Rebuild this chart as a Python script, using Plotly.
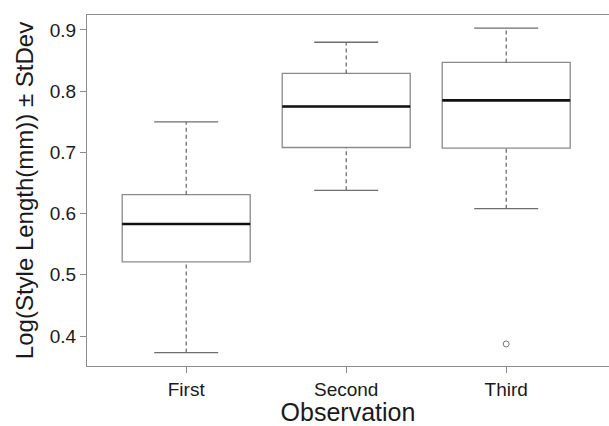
import plotly.graph_objects as go

categories = ["First", "Second", "Third"]
positions = [1, 2, 3]
lower_whisker = [0.373, 0.638, 0.608]
q1 = [0.521, 0.708, 0.707]
median = [0.583, 0.775, 0.785]
q3 = [0.631, 0.829, 0.847]
upper_whisker = [0.750, 0.880, 0.903]
outlier_x = ["Third"]
outlier_y = [0.387]
y_ticks = [0.4, 0.5, 0.6, 0.7, 0.8, 0.9]

BOX_W = 0.8
CAP_W = 0.4
pos_of = dict(zip(categories, positions))

fig = go.Figure()

# Box bodies (no whiskers)
fig.add_trace(go.Box(
    x=positions, q1=q1, median=median, q3=q3,
    lowerfence=q1, upperfence=q3,
    width=BOX_W, fillcolor="white",
    line=dict(color="#8a8a8a", width=1.3),
    boxpoints=False, hoverinfo="skip", showlegend=False,
))

for p, lw, a, m, b, uw in zip(positions, lower_whisker, q1, median, q3, upper_whisker):
    # dashed whiskers
    for y0, y1 in ((lw, a), (b, uw)):
        fig.add_trace(go.Scatter(x=[p, p], y=[y0, y1], mode="lines",
                                 line=dict(color="#555555", width=1.1, dash="4px,3px"),
                                 showlegend=False, hoverinfo="skip"))
    # caps
    for yv in (lw, uw):
        fig.add_trace(go.Scatter(x=[p - CAP_W / 2, p + CAP_W / 2], y=[yv, yv], mode="lines",
                                 line=dict(color="#6e6e6e", width=1.3),
                                 showlegend=False, hoverinfo="skip"))
    # median
    fig.add_trace(go.Scatter(x=[p - BOX_W / 2, p + BOX_W / 2], y=[m, m], mode="lines",
                             line=dict(color="#111111", width=2.6),
                             showlegend=False, hoverinfo="skip"))

fig.add_trace(go.Scatter(
    x=[pos_of[c] for c in outlier_x], y=outlier_y, mode="markers",
    marker=dict(symbol="circle-open", size=6, color="#777777", line=dict(width=1)),
    showlegend=False, hoverinfo="skip"))

fig.update_layout(
    width=609, height=426,
    margin=dict(l=87, r=0, t=15, b=60, autoexpand=False),
    paper_bgcolor="white", plot_bgcolor="white",
    font=dict(family="Liberation Sans, Arial, sans-serif", color="#1a1a1a"),
)
fig.update_xaxes(
    range=[0.38, 3.6425], tickvals=positions, ticktext=categories,
    showgrid=False, zeroline=False, automargin=False,
    showline=True, linecolor="#8c8c8c", linewidth=1.3, mirror=True,
    ticks="outside", ticklen=6, tickcolor="#8c8c8c", tickwidth=1,
    tickfont=dict(size=19),
    title=dict(text="Observation", font=dict(size=25), standoff=0),
)
fig.update_yaxes(
    range=[0.351, 0.9245], tickvals=y_ticks, ticktext=[f"{v:.1f}" for v in y_ticks],
    showgrid=False, zeroline=False, automargin=False,
    showline=True, linecolor="#8c8c8c", linewidth=1.3, mirror=False,
    ticks="outside", ticklen=6, tickcolor="#8c8c8c", tickwidth=1,
    tickfont=dict(size=19),
    title=dict(text="Log(Style Length(mm)) ± StDev", font=dict(size=24), standoff=9),
)

fig.write_html("out.html", config={"displayModeBar": False},
               post_script="document.body.style.margin='0';document.body.style.overflow='hidden';")
